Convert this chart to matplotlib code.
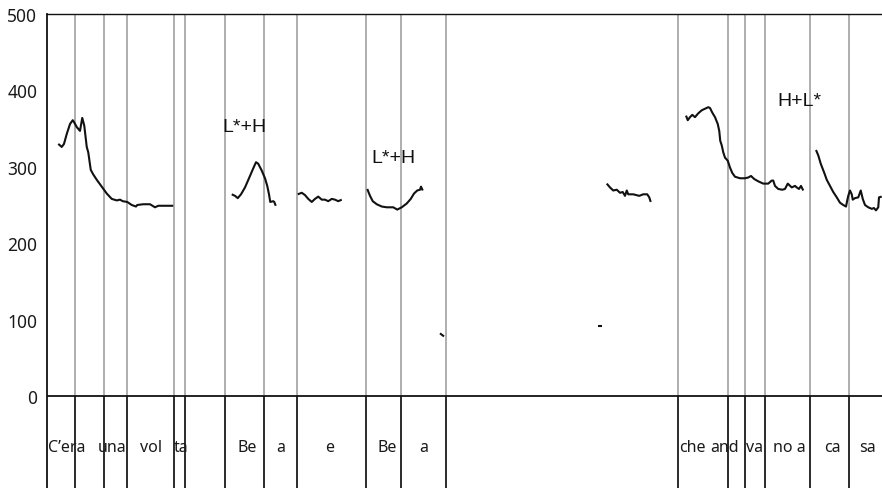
import matplotlib
matplotlib.use("Agg")
import matplotlib.pyplot as plt

# F0 contour (time in ms, pitch in Hz), one list pair per voiced stretch
seg_times = [
    [45, 59, 68, 79, 92, 103, 109, 119, 132, 141, 149, 159, 165, 175, 185, 199,
     219, 239, 259, 279, 292, 303, 321, 339, 356, 361, 385, 412, 432, 445, 472, 505],
    [739, 752, 763, 776, 792, 808, 825, 836, 845, 859, 872, 881, 888, 893, 905, 909, 915],
    [1003, 1019, 1032, 1045, 1059, 1072, 1085, 1099, 1112, 1125, 1139, 1152, 1165, 1179],
    [1281, 1292, 1303, 1319, 1339, 1359, 1385, 1401, 1419, 1439, 1455, 1468, 1481, 1492,
     1496, 1503],
    [1572, 1588],
    [2205, 2221],
    [2239, 2252, 2265, 2279, 2292, 2303, 2312, 2319, 2325, 2345, 2369, 2385, 2401, 2409, 2415],
    [2556, 2563, 2572, 2581, 2592, 2605, 2619, 2632, 2645, 2652, 2661, 2672, 2683, 2689,
     2693, 2699, 2705, 2712, 2723, 2732, 2741, 2752, 2772, 2792, 2805, 2816, 2829, 2845,
     2865, 2885, 2899, 2905, 2912, 2925, 2941, 2952, 2963, 2979, 2992, 2999, 3008, 3016, 3025],
    [3076, 3085, 3095, 3108, 3119, 3132, 3145, 3159, 3172, 3185, 3196, 3201, 3205, 3212,
     3219, 3223, 3232, 3245, 3255, 3263, 3272, 3285, 3299, 3308, 3316, 3325, 3328, 3339],
]
seg_f0 = [
    [330, 326, 330, 343, 356, 361, 358, 352, 347, 364, 354, 326, 319, 296, 290, 283,
     274, 265, 258, 256, 257, 255, 254, 250, 248, 250, 251, 251, 247, 249, 249, 249],
    [264, 262, 259, 264, 273, 285, 298, 306, 304, 295, 285, 275, 264, 254, 255, 254, 249],
    [264, 266, 263, 258, 254, 258, 261, 257, 257, 255, 258, 257, 255, 257],
    [271, 262, 255, 251, 248, 247, 247, 244, 247, 252, 258, 265, 269, 270, 274, 269],
    [82, 78],
    [91, 91],
    [278, 273, 269, 270, 266, 267, 262, 269, 264, 264, 262, 264, 264, 260, 254],
    [367, 361, 365, 368, 365, 370, 374, 376, 378, 377, 371, 365, 356, 347, 334, 328,
     319, 312, 308, 299, 292, 287, 285, 285, 286, 288, 284, 281, 278, 278, 282, 282,
     275, 271, 270, 271, 278, 273, 275, 273, 271, 275, 269],
    [322, 315, 304, 293, 283, 275, 267, 260, 253, 250, 248, 256, 262, 269, 264, 257,
     259, 260, 269, 258, 250, 247, 245, 246, 243, 247, 260, 261],
]

# Syllable boundaries (ms)
boundaries = [112, 229, 319, 509, 552, 713, 869, 1001, 1275, 1415, 1597,
              2524, 2723, 2791, 2871, 3052, 3207]

# Syllable tier
syllables = ["C’era", "una", "vol", "ta", "Be", "a", "e", "Be", "a",
             "che", "and", "va", "no a", "ca", "sa"]
syllable_times = [79, 260, 417, 536, 802, 934, 1132, 1359, 1506,
                  2583, 2710, 2828, 2968, 3140, 3282]

# Pitch-accent labels
accents = ["L*+H", "L*+H", "H+L*"]
accent_times = [788, 1384, 3010]
accent_f0 = [353, 312, 387]

y_ticks = [0, 100, 200, 300, 400, 500]
t_end = 3340
tier_bottom = -120.4
tier_text_y = -67

fig = plt.figure(figsize=(8.82, 4.89), dpi=100)
ax = fig.add_axes([47 / 882, 0.0, 1 - 47 / 882, 1 - 15 / 489])
ax.set_xlim(0, t_end)
ax.set_ylim(tier_bottom, 500)

# boundaries: grey in the F0 panel, dark in the tier
ax.vlines(boundaries, 0, 500, colors="#a8a8a8", linewidth=1.3, zorder=1)
ax.vlines(boundaries, tier_bottom, 0, colors="#1a1a1a", linewidth=1.3, zorder=1)
ax.axhline(0, color="#111111", linewidth=1.3, zorder=2)

for t, f in zip(seg_times, seg_f0):
    ax.plot(t, f, color="#111111", linewidth=1.5, solid_capstyle="butt", zorder=3)

for s, t in zip(syllables, syllable_times):
    ax.text(t, tier_text_y, s, ha="center", va="center", fontsize=11.5,
            family="Noto Sans", color="#1a1a1a")

for a, t, f in zip(accents, accent_times, accent_f0):
    ax.text(t, f, a, ha="center", va="center", fontsize=14,
            family="Liberation Sans", color="#111111")

for side in ["right", "bottom"]:
    ax.spines[side].set_visible(False)
ax.spines["left"].set_linewidth(1.3)
ax.spines["left"].set_color("#111111")
ax.spines["top"].set_linewidth(1.0)
ax.spines["top"].set_color("#111111")

ax.set_xticks([])
ax.set_yticks(y_ticks)
ax.tick_params(axis="y", length=0, pad=7, labelsize=12.5, labelcolor="#1a1a1a")
for lbl in ax.get_yticklabels():
    lbl.set_family("Noto Sans")

fig.savefig("out.png", dpi=100)
